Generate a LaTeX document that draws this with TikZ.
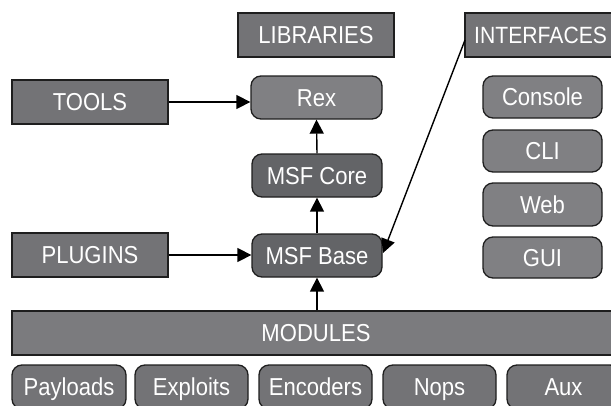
\documentclass[tikz,border=0pt]{standalone}
\usepackage{fontspec}
\setmainfont[FakeStretch=0.9]{Liberation Sans}
\usetikzlibrary{arrows.meta}
\definecolor{boxrect}{HTML}{737376}
\definecolor{boxlight}{HTML}{808083}
\definecolor{boxdark}{HTML}{636467}
\definecolor{boxmod}{HTML}{7B7B7E}
\definecolor{boxsub}{HTML}{737376}
\definecolor{edge}{HTML}{1E1E1E}
\tikzset{
  basebox/.style={draw=edge, line width=1.3pt, text=white, inner sep=0pt,
    font=\fontsize{24.5}{28}\selectfont, text height=17.5pt, text depth=0pt,
    anchor=center},
  rectbox/.style={basebox, fill=boxrect, rectangle},
  lightbox/.style={basebox, fill=boxlight, rounded corners=10pt},
  darkbox/.style={basebox, fill=boxdark, rounded corners=10pt},
  modbox/.style={basebox, fill=boxmod},
  subbox/.style={basebox, fill=boxsub, rounded corners=10pt, minimum width=113pt, minimum height=44pt},
  link/.style={line width=1.4pt, draw=black, -{Triangle[length=14pt,width=14pt]}}
}
\begin{document}
\begin{tikzpicture}[x=1pt,y=-1pt]
\useasboundingbox (0,0) rectangle (611,405);
% top row
\node[rectbox, minimum width=156pt, minimum height=44pt] (lib) at (316,35) {LIBRARIES};
\node[rectbox, minimum width=160pt, minimum height=44pt] (int) at (545,35) {};
\node[text=white, font=\fontsize{23.5}{28}\selectfont, inner sep=0pt, anchor=west, text height=17pt, text depth=0pt] (inttext) at (474,35) {INTERFACES};
% left column
\node[rectbox, minimum width=156pt, minimum height=44pt] (tools) at (90,102) {TOOLS};
\node[rectbox, minimum width=156pt, minimum height=44pt] (plugins) at (90,255) {PLUGINS};
% center column
\node[lightbox, minimum width=131pt, minimum height=43pt] (rex) at (316.5,97.5) {Rex};
\node[darkbox, minimum width=130pt, minimum height=43pt] (core) at (317,175.5) {MSF Core};
\node[darkbox, minimum width=130pt, minimum height=43pt] (base) at (317,255.5) {MSF Base};
% interfaces column
\node[lightbox, minimum width=119pt, minimum height=42pt] (console) at (542.5,97) {Console};
\node[lightbox, minimum width=119pt, minimum height=42pt] (cli) at (542.5,151) {CLI};
\node[lightbox, minimum width=119pt, minimum height=43pt] (web) at (542.5,204.5) {Web};
\node[lightbox, minimum width=119pt, minimum height=41pt] (gui) at (542.5,257.5) {GUI};
% modules
\node[modbox, minimum width=613pt, minimum height=44pt] (modules) at (318.5,333) {};
\node[text=white, font=\fontsize{24.5}{28}\selectfont, inner sep=0pt, text height=17.5pt, text depth=0pt] (modtext) at (316,333) {MODULES};
\node[subbox, minimum width=114pt] (payloads) at (69,387) {Payloads};
\node[subbox] (exploits) at (191.5,387) {Exploits};
\node[subbox] (encoders) at (315.5,387) {Encoders};
\node[subbox] (nops) at (439.5,387) {Nops};
\node[subbox] (aux) at (563.5,387) {Aux};
% connectors
\coordinate (intpt) at (465,40);
\coordinate (basept) at (383,253);
\draw[link] (tools.east) -- (tools.east -| rex.west);
\draw[link] (plugins.east) -- (plugins.east -| base.west);
\draw[link] (core.north) -- (rex.south);
\draw[link] (base.north) -- (core.south);
\draw[link] (modules.north -| base.south) -- (base.south);
\draw[link] (intpt) -- (basept);
\end{tikzpicture}
\end{document}
